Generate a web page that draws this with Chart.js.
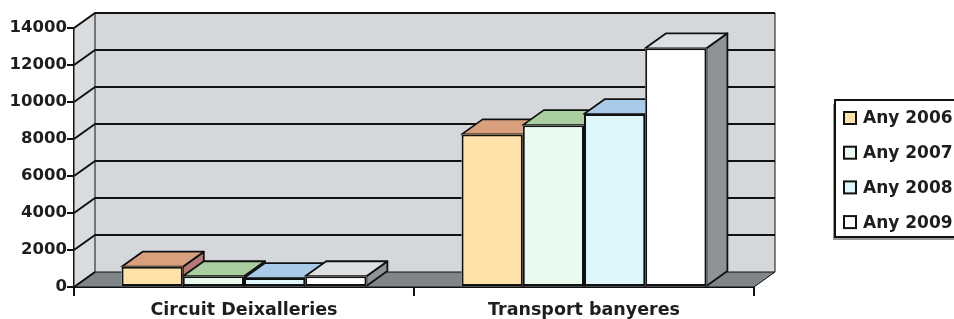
<!DOCTYPE html>
<html>
<head>
<meta charset="utf-8">
<script src="https://cdn.jsdelivr.net/npm/chart.js@4.4.1/dist/chart.umd.min.js"></script>
<style>
  html, body { margin: 0; padding: 0; background: #ffffff; }
  #canvas { display: block; }
</style>
</head>
<body>
<canvas id="canvas" width="954" height="319"></canvas>
<script>
// data
const categories = ['Circuit Deixalleries', 'Transport banyeres'];
const seriesLabels = ['Any 2006', 'Any 2007', 'Any 2008', 'Any 2009'];
const any2006 = [1100, 8250];
const any2007 = [580, 8750];
const any2008 = [480, 9350];
const any2009 = [580, 12900];
const yMax = 14000;
const yStep = 2000;

// colours of each face: front, top, side
const frontColors = ['#ffe2aa', '#e9fbee', '#ddf6fb', '#ffffff'];
const topColors = ['#d9a07e', '#a9cfa1', '#a9c9e8', '#dde1e4'];
const sideColors = ['#b57a78', '#7fa27a', '#7f9fbd', '#8d9397'];

const DX = 21, DY = -15; // depth offset of the 3d look
const FONT = 'DejaVu Sans';

function poly(ctx, pts, fill) {
  ctx.beginPath();
  ctx.moveTo(pts[0][0], pts[0][1]);
  for (let i = 1; i < pts.length; i++) ctx.lineTo(pts[i][0], pts[i][1]);
  ctx.closePath();
  if (fill) { ctx.fillStyle = fill; ctx.fill(); }
  ctx.stroke();
}

const box3d = {
  id: 'box3d',
  beforeDatasetsDraw(chart) {
    const { ctx, chartArea: a, scales: { y } } = chart;
    ctx.save();
    ctx.lineJoin = 'round';
    ctx.strokeStyle = '#111';

    // back wall
    ctx.lineWidth = 1;
    ctx.fillStyle = '#d4d8db';
    ctx.fillRect(a.left + DX, a.top + DY, a.right - a.left, a.bottom - a.top);
    // left wall
    poly(ctx, [[a.left, a.top], [a.left + DX, a.top + DY], [a.left + DX, a.bottom + DY], [a.left, a.bottom]], '#d9dcdf');
    // floor
    poly(ctx, [[a.left, a.bottom], [a.right, a.bottom], [a.right + DX, a.bottom + DY], [a.left + DX, a.bottom + DY]], '#7f8589');
    // wall edges
    ctx.beginPath();
    ctx.moveTo(a.right + DX, a.top + DY);
    ctx.lineTo(a.right + DX, a.bottom + DY);
    ctx.stroke();

    // grid on the back wall and the left wall
    ctx.lineWidth = 2;
    y.ticks.forEach(t => {
      const py = y.getPixelForValue(t.value);
      ctx.beginPath();
      ctx.moveTo(a.left, py);
      ctx.lineTo(a.left + DX, py + DY);
      if (t.value > 0) ctx.lineTo(a.right + DX, py + DY);
      ctx.stroke();
    });

    // tops and sides of the columns, left to right
    ctx.lineWidth = 1.8;
    const metas = chart.data.datasets.map((d, i) => chart.getDatasetMeta(i));
    for (let j = 0; j < categories.length; j++) {
      metas.forEach((meta, i) => {
        const bar = meta.data[j];
        const { x, y: by, base, width } = bar.getProps(['x', 'y', 'base', 'width'], true);
        const l = x - width / 2, r = x + width / 2;
        poly(ctx, [[r, by], [r + DX, by + DY], [r + DX, base + DY], [r, base]], sideColors[i]);
        poly(ctx, [[l, by], [r, by], [r + DX, by + DY], [l + DX, by + DY]], topColors[i]);
        ctx.fillStyle = frontColors[i];
        ctx.fillRect(l, by, width, base - by);
      });
    }
    ctx.restore();
  },
  afterDraw(chart) {
    const { ctx } = chart;
    ctx.save();
    // legend box
    ctx.fillStyle = '#9a9a9a';
    ctx.fillRect(833, 104, 140, 136);
    ctx.fillStyle = '#ffffff';
    ctx.fillRect(835, 100, 140, 137);
    ctx.strokeStyle = '#111';
    ctx.lineWidth = 2;
    ctx.strokeRect(835, 100, 140, 137);
    ctx.font = 'bold 17px ' + FONT;
    ctx.textBaseline = 'middle';
    chart.data.datasets.forEach((ds, i) => {
      const cy = 118 + i * 34.7;
      ctx.fillStyle = ds.backgroundColor;
      ctx.fillRect(844, cy - 6, 12, 12);
      ctx.lineWidth = 2;
      ctx.strokeRect(844, cy - 6, 12, 12);
      ctx.fillStyle = '#1e1e1e';
      ctx.fillText(ds.label, 863, cy + 1);
    });
    ctx.restore();
  }
};

const seriesValues = [any2006, any2007, any2008, any2009];

var canvas = document.getElementById('canvas');
var myChart = new Chart(canvas, {
  type: 'bar',
  data: {
    labels: categories,
    datasets: seriesLabels.map((label, i) => ({
      label: label,
      data: seriesValues[i],
      backgroundColor: frontColors[i],
      borderColor: '#111',
      borderWidth: 2,
      borderSkipped: false,
      categoryPercentage: 0.72,
      barPercentage: 1
    }))
  },
  options: {
    responsive: false,
    animation: false,
    layout: { padding: { top: 28, right: 200, left: 0, bottom: 0 } },
    plugins: {
      legend: { display: false },
      tooltip: { enabled: false }
    },
    scales: {
      x: {
        afterFit: s => { s.height = 32; },
        grid: { display: true, drawOnChartArea: false, drawTicks: true, tickLength: 9, color: '#111', lineWidth: 2 },
        border: { display: true, color: '#111', width: 2 },
        ticks: { color: '#1e1e1e', padding: 4, font: { family: FONT, size: 17.5, weight: 'bold' } }
      },
      y: {
        min: 0,
        max: yMax,
        afterFit: s => { s.width = 74; },
        grid: { display: true, drawOnChartArea: false, drawTicks: true, tickLength: 7, color: '#111', lineWidth: 2 },
        border: { display: true, color: '#111', width: 2 },
        ticks: {
          stepSize: yStep,
          color: '#1e1e1e',
          padding: 0,
          font: { family: FONT, size: 16.5, weight: 'bold' },
          callback: v => String(v)
        }
      }
    }
  },
  plugins: [box3d]
});
</script>
</body>
</html>
